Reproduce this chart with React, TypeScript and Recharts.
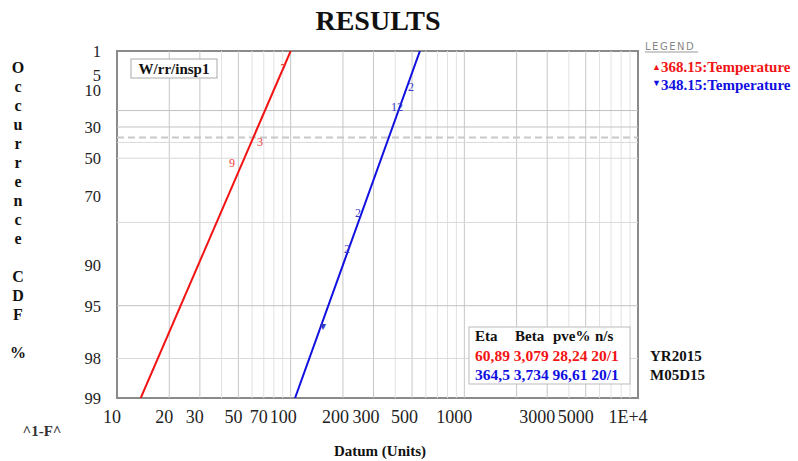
import React from 'react';
import {
  ComposedChart, Line, Scatter, XAxis, YAxis, ReferenceLine, ReferenceArea
} from 'recharts';

// Axis ticks (Datum on log scale, 1-F in percent on Weibull probability scale)
const xTicks = [10, 20, 30, 50, 70, 100, 200, 300, 500, 1000, 3000, 5000, 10000];
const yTickLabels = [1, 5, 10, 30, 50, 70, 90, 95, 98, 99];

// Grid lines
const xGridMajor = [20, 30, 50, 100, 200, 300, 500, 1000, 2000, 3000, 5000];
const xGridMinor = [40, 60, 70, 80, 90, 400, 600, 700, 800, 900, 4000, 6000, 7000, 8000, 9000];
const yGridMajor = [20, 30, 95];
const yGridMinor = [40, 50, 80, 98];
const charLifePct = 36.79;

// Fitted lines (datum, percent)
const redDatum = [13.7, 100];
const redPct = [99, 1];
const blueDatum = [106, 555];
const bluePct = [99, 1];

// Point annotations along the lines
const redMarkDatum = [91, 66.5, 45.9];
const redMarkPct = [3.3, 40, 53];
const redMarkText = ['7', '3', '9'];
const blueMarkDatum = [493, 409, 244, 211, 153];
const blueMarkPct = [8.7, 18, 77, 87, 96.5];
const blueMarkText = ['2', '12', '2', '2', '\u25BE'];

const RED = '#f21414';
const BLUE = '#1010e0';
const SERIF = '"Liberation Serif", "Times New Roman", serif';

// Weibull probability transform for the y axis
const zOf = (pct: number) => Math.log(-Math.log(pct / 100));
const Z_TOP = zOf(1);
const Z_BOTTOM = zOf(99);
const yTicks = yTickLabels.map(zOf);

const toRows = (xs: number[], ps: number[], texts?: string[]) =>
  xs.map((x, i) => ({ x, z: zOf(ps[i]), t: texts ? texts[i] : '' }));

const redLine = toRows(redDatum, redPct);
const blueLine = toRows(blueDatum, bluePct);
const redMarks = toRows(redMarkDatum, redMarkPct, redMarkText);
const blueMarks = toRows(blueMarkDatum, blueMarkPct, blueMarkText);

const fmtX = (v: number) => (v >= 10000 ? '1E+4' : String(v));

const XTick = (props: any) => {
  const { x, y, payload } = props;
  const s = fmtX(payload.value);
  return (
    <text x={x - s.length * 2.5} y={y + 25} textAnchor="middle" fontFamily={SERIF} fontSize={18} fill="#222">
      {s}
    </text>
  );
};

const YTick = (props: any) => {
  const { x, y, payload } = props;
  let idx = 0;
  yTicks.forEach((t, i) => {
    if (Math.abs(t - payload.value) < Math.abs(yTicks[idx] - payload.value)) idx = i;
  });
  return (
    <text x={x - 16} y={y + 6} textAnchor="end" fontFamily={SERIF} fontSize={16.5} fill="#222">
      {yTickLabels[idx]}
    </text>
  );
};

const markShape = (color: string) => (props: any) => (
  <text x={props.cx} y={props.cy + 4} textAnchor="middle" fontFamily={SERIF} fontSize={12} fill={color}>
    {props.payload.t}
  </text>
);

const sideLetters = ['O', 'c', 'c', 'u', 'r', 'r', 'e', 'n', 'c', 'e', '', 'C', 'D', 'F', '', '%'];

const Overlay = () => (
  <svg width={798} height={461} style={{ position: 'absolute', left: 0, top: 0, pointerEvents: 'none' }}>
    <text x={378} y={30} textAnchor="middle" fontFamily={SERIF} fontWeight="bold" fontSize={28} fill="#111">
      RESULTS
    </text>
    {sideLetters.map((c, i) => (
      <text key={i} x={18} y={73 + i * 19} textAnchor="middle" fontFamily={SERIF} fontWeight="bold" fontSize={16} fill="#111">
        {c}
      </text>
    ))}
    <text x={42} y={436} textAnchor="middle" fontFamily={SERIF} fontWeight="bold" fontSize={15} fill="#333">
      ^1-F^
    </text>
    <text x={380} y={456} textAnchor="middle" fontFamily={SERIF} fontWeight="bold" fontSize={15} fill="#111">
      Datum (Units)
    </text>

    <rect x={131} y={59} width={86} height={19} fill="#fff" stroke="#aaa" />
    <text x={174} y={74} textAnchor="middle" fontFamily={SERIF} fontWeight="bold" fontSize={15} fill="#111">
      W/rr/insp1
    </text>

    <text x={645} y={50} fontFamily="DejaVu Sans" fontSize={10} letterSpacing={1.5} fill="#888">
      LEGEND
    </text>
    <line x1={645} y1={52} x2={698} y2={52} stroke="#999" />
    <text x={652} y={72} fontFamily={SERIF} fontWeight="bold" fontSize={15} fill={RED}>
      <tspan fontSize={9} dy={-2}>{'\u25B2'}</tspan>
      <tspan dy={2}>368.15:Temperature</tspan>
    </text>
    <text x={652} y={90} fontFamily={SERIF} fontWeight="bold" fontSize={15} fill={BLUE}>
      <tspan fontSize={9} dy={-4}>{'\u25BC'}</tspan>
      <tspan dy={4}>348.15:Temperature</tspan>
    </text>

    <rect x={469} y={327} width={161} height={57} fill="#fff" stroke="#bbb" />
    <text y={341} fontFamily={SERIF} fontWeight="bold" fontSize={15} fill="#111">
      <tspan x={475}>Eta</tspan>
      <tspan x={515}>Beta</tspan>
      <tspan x={553}>pve%</tspan>
      <tspan x={595}>n/s</tspan>
    </text>
    <text x={475} y={361} fontFamily={SERIF} fontWeight="bold" fontSize={15.5} fill={RED}>
      60,89 3,079 28,24 20/1
    </text>
    <text x={475} y={380} fontFamily={SERIF} fontWeight="bold" fontSize={15.5} fill={BLUE}>
      364,5 3,734 96,61 20/1
    </text>
    <text x={650} y={361} fontFamily={SERIF} fontWeight="bold" fontSize={15} fill="#111">
      YR2015
    </text>
    <text x={650} y={380} fontFamily={SERIF} fontWeight="bold" fontSize={15} fill="#111">
      M05D15
    </text>
  </svg>
);

export default function App() {
  return (
    <div style={{ position: 'absolute', left: 0, top: 0, width: 798, height: 461, background: '#fff' }}>
      <ComposedChart width={798} height={461} margin={{ top: 51, right: 160, bottom: 33, left: 57 }}>
        <XAxis
          dataKey="x"
          type="number"
          scale="log"
          domain={[10, 10000]}
          ticks={xTicks}
          interval={0}
          allowDataOverflow
          height={30}
          tickSize={0}
          tickMargin={0}
          axisLine={false}
          tick={<XTick />}
        />
        <YAxis
          type="number"
          domain={[Z_BOTTOM, Z_TOP]}
          ticks={yTicks}
          interval={0}
          allowDataOverflow
          width={60}
          tickSize={0}
          tickMargin={0}
          axisLine={false}
          tick={<YTick />}
        />
        {xGridMinor.map((v) => (
          <ReferenceLine key={'xm' + v} x={v} stroke="#e2e2e2" strokeWidth={1} />
        ))}
        {xGridMajor.map((v) => (
          <ReferenceLine key={'xM' + v} x={v} stroke="#c6c6c6" strokeWidth={1} />
        ))}
        {yGridMinor.map((p) => (
          <ReferenceLine key={'ym' + p} y={zOf(p)} stroke="#dadada" strokeWidth={1} />
        ))}
        {yGridMajor.map((p) => (
          <ReferenceLine key={'yM' + p} y={zOf(p)} stroke="#c2c2c2" strokeWidth={1} />
        ))}
        <ReferenceLine y={zOf(charLifePct)} stroke="#c8c8c8" strokeWidth={2} strokeDasharray="7 4" />
        <ReferenceArea x1={10} x2={10000} y1={Z_BOTTOM} y2={Z_TOP} fill="none" stroke="#8a8a8a" strokeWidth={2} />
        <Line data={redLine} dataKey="z" stroke={RED} strokeWidth={2} dot={false} isAnimationActive={false} />
        <Line data={blueLine} dataKey="z" stroke={BLUE} strokeWidth={2} dot={false} isAnimationActive={false} />
        <Scatter data={redMarks} dataKey="z" shape={markShape('#ee3a3a')} isAnimationActive={false} />
        <Scatter data={blueMarks} dataKey="z" shape={markShape('#3838c8')} isAnimationActive={false} />
      </ComposedChart>
      <Overlay />
    </div>
  );
}
